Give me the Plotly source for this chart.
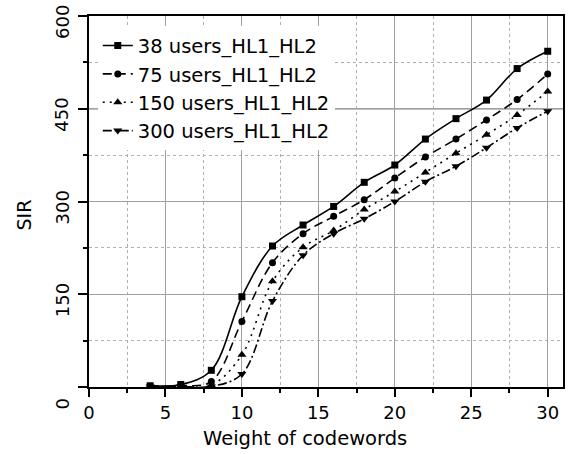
import plotly.graph_objects as go

# ---- data ----
weights = [4, 6, 8, 10, 12, 14, 16, 18, 20, 22, 24, 26, 28, 30]
sir_38 = [2, 4, 27, 146, 228, 262, 292, 331, 359, 401, 434, 464, 515, 543]
sir_75 = [1, 2, 9, 106, 201, 248, 276, 303, 338, 372, 401, 432, 465, 506]
sir_150 = [1, 1, 3, 52, 171, 226, 253, 287, 316, 347, 378, 408, 440, 478]
sir_300 = [1, 1, 1, 21, 139, 213, 248, 272, 300, 332, 357, 387, 419, 446]
series_names = ["38 users_HL1_HL2", "75 users_HL1_HL2", "150 users_HL1_HL2", "300 users_HL1_HL2"]
x_ticks = [0, 5, 10, 15, 20, 25, 30]
y_ticks = [0, 150, 300, 450, 600]
ref_level = 450

FONT = "DejaVu Sans, Arial, sans-serif"
series = [sir_38, sir_75, sir_150, sir_300]
symbols = ["square", "circle", "triangle-up", "triangle-down"]
sizes = [7, 7, 8, 8]
dashes = ["solid", "9px,5px", "2px,5px", "9px,3px,2px,3px"]

fig = go.Figure()
for name, ys, sym, sz, dsh in zip(series_names, series, symbols, sizes, dashes):
    fig.add_trace(go.Scatter(
        x=weights, y=ys, name=name, mode="lines+markers",
        line=dict(color="black", width=1.6, dash=dsh, shape="spline", smoothing=1.0),
        marker=dict(symbol=sym, size=sz, color="black"),
    ))

fig.add_shape(type="line", xref="x", yref="y", x0=0, x1=31, y0=ref_level, y1=ref_level,
              line=dict(color="black", width=1), layer="below")

# y tick labels (rotated, text starts below tick)
for v in y_ticks:
    fig.add_annotation(x=0, y=v, xref="paper", yref="y", text=str(v), showarrow=False,
                       textangle=-90, xanchor="center", yanchor="bottom",
                       xshift=-27, yshift=-25, font=dict(family=FONT, size=18, color="black"))
fig.add_annotation(x=0, y=0.5, xref="paper", yref="paper", text="SIR", showarrow=False,
                   textangle=-90, xanchor="center", yanchor="middle",
                   xshift=-66, yshift=-14, font=dict(family=FONT, size=19, color="black"))
fig.add_annotation(x=0.456, y=0, xref="paper", yref="paper", text="Weight of codewords",
                   showarrow=False, xanchor="center", yanchor="middle", yshift=-51,
                   font=dict(family=FONT, size=19.5, color="black"))

fig.update_layout(
    width=574, height=454,
    margin=dict(l=88.5, r=9, t=15.7, b=67),
    paper_bgcolor="white", plot_bgcolor="white",
    font=dict(family=FONT, size=18, color="black"),
    showlegend=True,
    hovermode=False,
    legend=dict(x=0.0185, y=0.972, xanchor="left", yanchor="top", bgcolor="white",
                borderwidth=0, font=dict(family=FONT, size=19.5, color="black"),
                itemwidth=30, tracegroupgap=0),
)
fig.update_xaxes(
    range=[0, 31], tickvals=x_ticks, ticktext=[str(t) for t in x_ticks],
    ticks="outside", ticklen=8, tickwidth=1.5, tickcolor="black",
    showline=True, linecolor="black", linewidth=2, mirror=True,
    showgrid=True, gridcolor="#a0a0a0", gridwidth=1, zeroline=False,
    tickfont=dict(family=FONT, size=18, color="black"),
    minor=dict(dtick=2.5, tick0=0, ticks="outside", ticklen=4, tickcolor="black",
               showgrid=True, gridcolor="#b0b0b0", griddash="dot", gridwidth=1),
)
fig.update_yaxes(
    range=[0, 600], tickvals=y_ticks, showticklabels=False,
    ticks="outside", ticklen=9, tickwidth=1.5, tickcolor="black",
    showline=True, linecolor="black", linewidth=2, mirror=True,
    showgrid=True, gridcolor="#a0a0a0", gridwidth=1, zeroline=False,
    minor=dict(dtick=75, tick0=0, ticks="outside", ticklen=4, tickcolor="black",
               showgrid=True, gridcolor="#b0b0b0", griddash="dot", gridwidth=1),
)
fig.write_html("out.html", config={"displayModeBar": False},
               post_script="document.body.style.margin='0px';")
